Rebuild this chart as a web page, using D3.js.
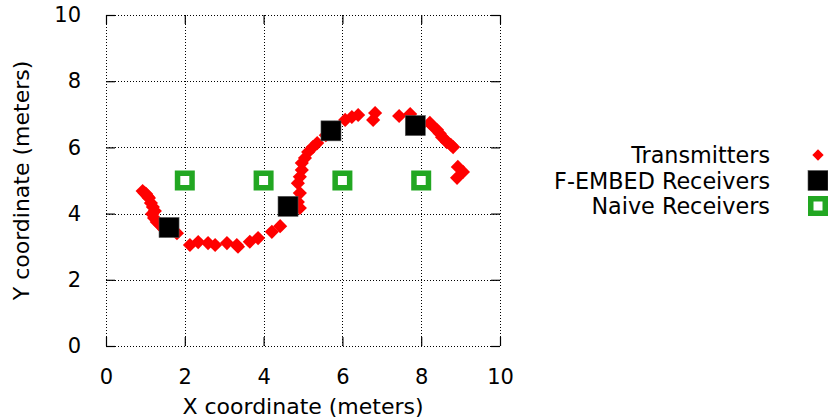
<!DOCTYPE html>
<html>
<head>
<meta charset="utf-8">
<script src="https://cdn.jsdelivr.net/npm/d3@7"></script>
<style>
  html, body { margin: 0; padding: 0; background: #fff; }
  svg { display: block; font-family: "DejaVu Sans", sans-serif; }
</style>
</head>
<body>
<svg id="chart" width="828" height="419"></svg>
<script>
// Transmitter positions (meters)
const txX = [0.93, 0.98, 1.02, 1.06, 1.09, 1.14, 1.19, 1.24, 1.17, 1.22, 1.29, 1.37, 1.47, 1.52, 1.80,
             2.13, 2.34, 2.59, 2.77, 3.07, 3.32, 3.35, 3.65, 3.86, 4.21, 4.42,
             4.92, 4.87, 4.92, 4.87, 4.92, 4.97, 4.97, 5.05, 5.13, 5.25, 5.36, 5.58, 5.79,
             6.07, 6.24, 6.40, 6.83, 6.78, 7.44, 7.72, 7.97, 8.22, 8.30, 8.40, 8.47, 8.53,
             8.60, 8.65, 8.75, 8.81, 8.93, 9.06, 8.91];
const txY = [4.68, 4.62, 4.59, 4.52, 4.47, 4.32, 4.20, 4.08, 3.99, 3.87, 3.75, 3.66, 3.53, 3.50, 3.41,
             3.05, 3.14, 3.11, 3.05, 3.11, 3.05, 3.00, 3.15, 3.26, 3.45, 3.62,
             4.17, 4.35, 4.62, 4.92, 5.11, 5.32, 5.53, 5.68, 5.86, 6.01, 6.13, 6.37, 6.59,
             6.83, 6.92, 6.98, 7.04, 6.83, 6.95, 7.01, 6.65, 6.74, 6.63, 6.53, 6.42, 6.31,
             6.24, 6.16, 6.08, 6.01, 5.41, 5.26, 5.08];

// F-EMBED receiver positions
const fembedX = [1.60, 4.62, 5.71, 7.85];
const fembedY = [3.58, 4.22, 6.50, 6.66];

// Naive receiver positions
const naiveX = [2, 4, 6, 8];
const naiveY = [5, 5, 5, 5];

const xTicks = [0, 2, 4, 6, 8, 10];
const yTicks = [0, 2, 4, 6, 8, 10];

const legendLabels = ["Transmitters", "F-EMBED Receivers", "Naive Receivers"];

const RED = "#ff0000";
const GREEN = "#22a722";
const FONT = 21;

const svg = d3.select("#chart");
const plot = { left: 106, right: 500, top: 15, bottom: 346 };

const x = d3.scaleLinear().domain([0, 10]).range([plot.left, plot.right]);
const y = d3.scaleLinear().domain([0, 10]).range([plot.bottom, plot.top]);

// Dotted grid, including the outer frame positions
const grid = svg.append("g").attr("stroke", "#000").attr("stroke-width", 1)
  .attr("stroke-dasharray", "1,2").attr("shape-rendering", "crispEdges");
grid.selectAll("line.gx").data(xTicks).join("line")
  .attr("x1", d => Math.round(x(d)) + 0.5).attr("x2", d => Math.round(x(d)) + 0.5)
  .attr("y1", plot.top).attr("y2", plot.bottom);
grid.selectAll("line.gy").data(yTicks).join("line")
  .attr("y1", d => Math.round(y(d)) + 0.5).attr("y2", d => Math.round(y(d)) + 0.5)
  .attr("x1", plot.left).attr("x2", plot.right);

// Axes with inward ticks, mirrored on the opposite side
const T = 9;
const axisStyle = g => {
  g.select(".domain").remove();
  g.selectAll(".tick line").attr("stroke", "#000").attr("stroke-width", 1.2);
  g.selectAll(".tick text").attr("fill", "#000").attr("font-size", FONT)
    .attr("font-family", "DejaVu Sans, sans-serif");
};
svg.append("g").attr("transform", `translate(0,${plot.bottom})`)
  .call(d3.axisBottom(x).tickValues(xTicks).tickFormat(d3.format("d")).tickSizeInner(-T).tickPadding(T + 14))
  .call(axisStyle);
svg.append("g").attr("transform", `translate(0,${plot.top})`)
  .call(d3.axisTop(x).tickValues(xTicks).tickFormat("").tickSizeInner(-T))
  .call(axisStyle);
svg.append("g").attr("transform", `translate(${plot.left},0)`)
  .call(d3.axisLeft(y).tickValues(yTicks).tickFormat(d3.format("d")).tickSizeInner(-T).tickPadding(T + 16))
  .call(axisStyle);
svg.append("g").attr("transform", `translate(${plot.right},0)`)
  .call(d3.axisRight(y).tickValues(yTicks).tickFormat("").tickSizeInner(-T))
  .call(axisStyle);

// Axis titles
svg.append("text").attr("x", (plot.left + plot.right) / 2).attr("y", 414)
  .attr("text-anchor", "middle").attr("font-size", 22).text("X coordinate (meters)");
svg.append("text").attr("transform", `translate(29,${(plot.top + plot.bottom) / 2}) rotate(-90)`)
  .attr("text-anchor", "middle").attr("font-size", 22).text("Y coordinate (meters)");

// Marker generators
const diamondPlot = d3.symbol(d3.symbolSquare, 100);
const diamondKey = d3.symbol(d3.symbolSquare, 64);
const drawFembed = (sel) => sel.attr("x", -10).attr("y", -10).attr("width", 20).attr("height", 20)
  .attr("fill", "#000").attr("stroke", "#555").attr("stroke-width", 0.6);
const drawNaive = (sel) => sel.attr("x", -7.25).attr("y", -7.25).attr("width", 14.5).attr("height", 14.5)
  .attr("fill", "#fff").attr("stroke", GREEN).attr("stroke-width", 5.5);

const tx = txX.map((v, i) => ({ x: v, y: txY[i] }));
const fe = fembedX.map((v, i) => ({ x: v, y: fembedY[i] }));
const nv = naiveX.map((v, i) => ({ x: v, y: naiveY[i] }));

svg.append("g").selectAll("path").data(tx).join("path")
  .attr("transform", d => `translate(${x(d.x)},${y(d.y)}) rotate(45)`)
  .attr("d", diamondPlot()).attr("fill", RED);
svg.append("g").selectAll("rect").data(fe).join("rect")
  .attr("transform", d => `translate(${x(d.x)},${y(d.y)})`)
  .call(drawFembed);
svg.append("g").selectAll("rect").data(nv).join("rect")
  .attr("transform", d => `translate(${x(d.x)},${y(d.y)})`)
  .call(drawNaive);

// Legend
const legend = svg.append("g");
const rowY = [155, 180.5, 206];
legendLabels.forEach((label, i) => {
  legend.append("text").attr("x", 770).attr("y", rowY[i] + 8)
    .attr("text-anchor", "end").attr("font-size", 22.3).text(label);
});
legend.append("path").attr("transform", `translate(818,${rowY[0]}) rotate(45)`)
  .attr("d", diamondKey()).attr("fill", RED);
legend.append("rect").attr("transform", `translate(818,${rowY[1]})`).call(drawFembed);
legend.append("rect").attr("transform", `translate(818,${rowY[2]})`).call(drawNaive);
</script>
</body>
</html>
